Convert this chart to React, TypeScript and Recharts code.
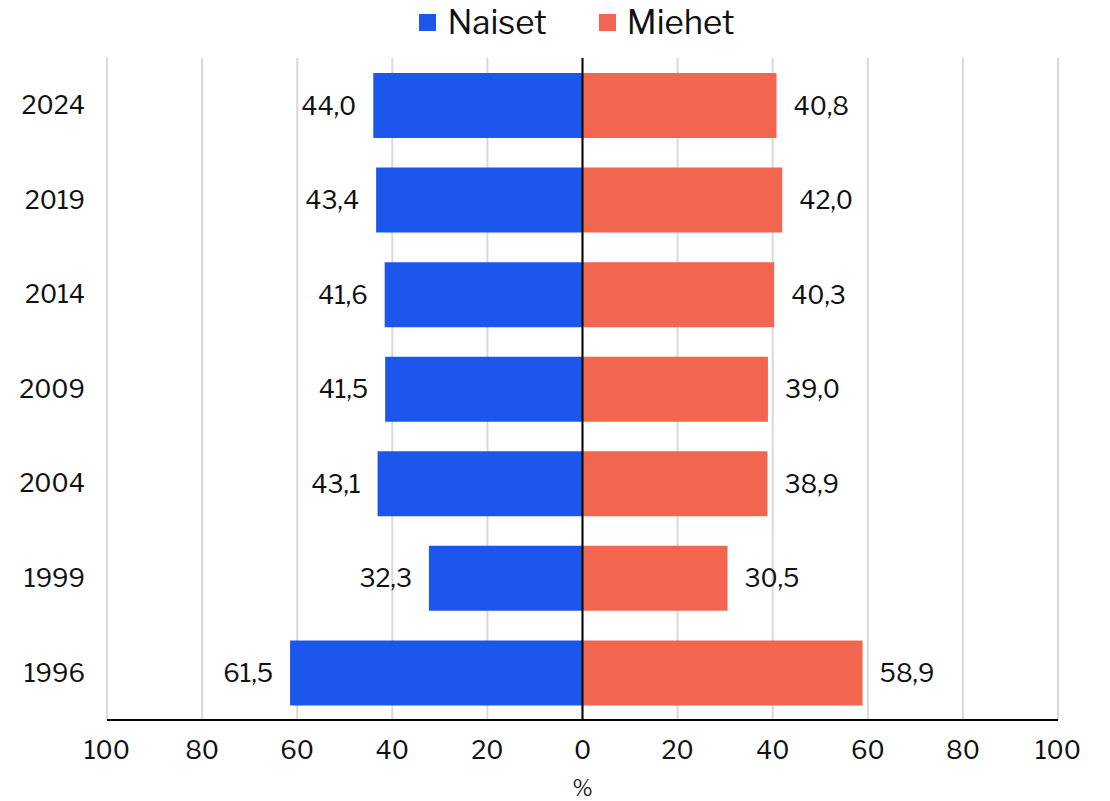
import React from "react";
import {
  BarChart, Bar, XAxis, YAxis, CartesianGrid, ReferenceLine, Legend, LabelList,
} from "recharts";

const years = ["2024", "2019", "2014", "2009", "2004", "1999", "1996"];
const naiset = [44.0, 43.4, 41.6, 41.5, 43.1, 32.3, 61.5];
const miehet = [40.8, 42.0, 40.3, 39.0, 38.9, 30.5, 58.9];
const xTicks = [-100, -80, -60, -40, -20, 0, 20, 40, 60, 80, 100];

const BLUE = "#1c56ec";
const ORANGE = "#f2654e";
const FONT = "'Libre Franklin', 'Liberation Sans', Arial, sans-serif";

// naiset drawn to the left as negative values
const data = years.map((y, i) => ({ year: y, naiset: -naiset[i], miehet: miehet[i] }));

const fmt = (v: number) => Math.abs(v).toFixed(1).replace(".", ",");

// value label just outside the bar end, on whichever side the bar grows
function SideLabel(props: any) {
  const { x, y, width, height, value } = props;
  const left = Math.min(x, x + width);
  const right = Math.max(x, x + width);
  const neg = value < 0;
  return (
    <text
      x={neg ? left - 17 : right + 17}
      y={y + height / 2}
      textAnchor={neg ? "end" : "start"}
      dominantBaseline="central"
      fontSize={25}
      fill="#111"
    >
      {fmt(value)}
    </text>
  );
}

function LegendBox() {
  const items = [
    { name: "Naiset", color: BLUE },
    { name: "Miehet", color: ORANGE },
  ];
  return (
    <div style={{ display: "flex", justifyContent: "center", alignItems: "center", height: 28, gap: 52, fontFamily: FONT, paddingLeft: 44 }}>
      {items.map((it) => (
        <div key={it.name} style={{ display: "flex", alignItems: "center", gap: 11 }}>
          <span style={{ width: 17, height: 17, background: it.color, display: "inline-block" }} />
          <span style={{ fontSize: 33, color: "#111", lineHeight: "28px" }}>{it.name}</span>
        </div>
      ))}
    </div>
  );
}

export default function App() {
  return (
    <BarChart
      width={1094}
      height={793}
      data={data}
      layout="vertical"
      stackOffset="sign"
      margin={{ top: 22, right: 44, left: 0, bottom: 0 }}
      style={{ fontFamily: FONT }}
    >
      <Legend verticalAlign="top" align="center" content={() => <LegendBox />} wrapperStyle={{ top: 0, left: 0, width: 1094 }} />
      <CartesianGrid horizontal={false} stroke="#d9d9d9" strokeWidth={2} verticalValues={xTicks} />
      <XAxis
        type="number"
        domain={[-100, 100]}
        ticks={xTicks}
        tickFormatter={(v: number) => String(Math.abs(v))}
        tick={{ fontSize: 25, fill: "#111" }}
        tickLine={false}
        tickSize={0}
        tickMargin={21}
        axisLine={{ stroke: "#000", strokeWidth: 2 }}
        height={81}
        label={{ value: "%", position: "insideBottom", offset: 5, fontSize: 22, fill: "#111" }}
      />
      <YAxis
        type="category"
        dataKey="year"
        width={99}
        axisLine={false}
        tickLine={false}
        tickSize={0}
        tickMargin={22}
        tick={{ fontSize: 25, fill: "#111" }}
      />
      <Bar dataKey="naiset" name="Naiset" stackId="a" fill={BLUE} barSize={65} isAnimationActive={false}>
        <LabelList dataKey="naiset" content={SideLabel} />
      </Bar>
      <Bar dataKey="miehet" name="Miehet" stackId="a" fill={ORANGE} barSize={65} isAnimationActive={false}>
        <LabelList dataKey="miehet" content={SideLabel} />
      </Bar>
      <ReferenceLine x={0} stroke="#000" strokeWidth={2} />
    </BarChart>
  );
}
